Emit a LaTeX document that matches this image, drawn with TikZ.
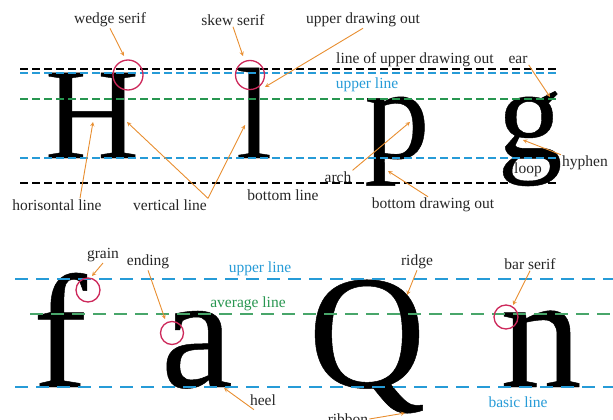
\documentclass[tikz,border=0pt]{standalone}
\usepackage{fontspec}
\setmainfont{Liberation Serif}
\newfontfamily\letterfont[FakeBold=0.3]{Liberation Serif}
\usetikzlibrary{arrows, positioning}
\definecolor{guideblue}{RGB}{38,155,215}
\definecolor{guidegreen}{RGB}{40,150,80}
\definecolor{arroworange}{RGB}{232,142,48}
\definecolor{ringred}{RGB}{205,40,90}
\tikzstyle{partname} = [font=\fontsize{15.5}{17}\selectfont, text=black!85, inner sep=1pt]
\tikzstyle{glyph} = [font=\letterfont\fontsize{130}{130}\selectfont, anchor=base, inner sep=0pt]
\tikzstyle{bigglyph} = [font=\letterfont\fontsize{162}{162}\selectfont, anchor=base, inner sep=0pt]
\tikzstyle{guide} = [line width=1.8pt, dash pattern=on 8pt off 4pt]
\tikzstyle{longguide} = [line width=2.2pt, dash pattern=on 13pt off 8pt]
\tikzstyle{ring} = [circle, draw=ringred, line width=1.3pt, inner sep=0pt]
\tikzstyle{arrow} = [arroworange, line width=0.9pt, ->, >=stealth]

\begin{document}
\begin{tikzpicture}[x=1pt, y=-1pt]
    \useasboundingbox (0,0) rectangle (613,420);
    % letters of the upper row
    \node (H) [glyph] at (92,158) {H};
    \node (l) [glyph] at (254,158) {l};
    \node (p) [glyph] at (397,158) {p};
    \node (g) [glyph] at (530,158) {g};
    % letters of the lower row
    \node (f) [bigglyph] at (60,387) {f};
    \node (a) [bigglyph] at (197,387) {a};
    \node (Q) [bigglyph] at (367,387) {Q};
    \node (n) [bigglyph] at (541,387) {n};

    % guide lines
    \draw [guide, black] (20,69) -- (558,69);
    \draw [guide, guideblue] (20,73) -- (558,73);
    \draw [guide, guidegreen] (20,99) -- (558,99);
    \draw [guide, guideblue] (20,158) -- (558,158);
    \draw [guide, black] (20,183) -- (558,183);
    \draw [longguide, guideblue] (15,279) -- (613,279);
    \draw [longguide, guidegreen!85!white] (30,314) -- (613,314);
    \draw [longguide, guideblue] (15,387) -- (613,387);

    % rings
    \node (wedgering) [ring, minimum size=30pt] at (128,75) {};
    \node (skewring) [ring, minimum size=29pt] at (250,75) {};
    \node (grainring) [ring, minimum size=24pt] at (88,290) {};
    \node (endingring) [ring, minimum size=23pt] at (172,333) {};
    \node (barring) [ring, minimum size=24pt] at (506,317) {};

    % names of the parts
    \node (wedge) [partname] at (110,20) {wedge serif};
    \node (skew) [partname] at (233,20) {skew serif};
    \node (upperout) [partname] at (363,20) {upper drawing out};
    \node (lineupper) [partname] at (415,60) {line of upper drawing out};
    \node (ear) [partname] at (518,60) {ear};
    \node (upperline) [partname, text=guideblue] at (367,85) {upper line};
    \node (hyphen) [partname] at (585,163) {hyphen};
    \node (loop) [partname] at (528,170) {loop};
    \node (arch) [partname] at (338,177) {arch};
    \node (bottomline) [partname] at (283,195) {bottom line};
    \node (bottomout) [partname] at (433,205) {bottom drawing out};
    \node (horiz) [partname] at (57,205) {horisontal line};
    \node (vertical) [partname] at (170,205) {vertical line};
    \node (grain) [partname] at (103,255) {grain};
    \node (ending) [partname] at (148,262) {ending};
    \node (upperline2) [partname, text=guideblue] at (260,269) {upper line};
    \node (average) [partname, text=guidegreen] at (248,304) {average line};
    \node (heel) [partname] at (263,400) {heel};
    \node (ridge) [partname] at (417,262) {ridge};
    \node (barserif) [partname] at (530,264) {bar serif};
    \node (basic) [partname, text=guideblue] at (518,402) {basic line};
    \node (ribbon) [partname] at (348,419) {ribbon};

    % points the arrows show
    \coordinate (wedgetip) at (124,56);
    \coordinate (skewtip) at (243,56);
    \coordinate (uppertip) at (265,87);
    \coordinate (horiztip) at (93,122);
    \coordinate (verttipH) at (127,122);
    \coordinate (verttipl) at (245,125);
    \coordinate (eartip) at (550,97);
    \coordinate (hyphentip) at (523,140);
    \coordinate (archtip) at (410,122);
    \coordinate (bottomtip) at (388,171);
    \coordinate (graintip) at (92,276);
    \coordinate (endingtip) at (165,319);
    \coordinate (heeltip) at (224,388);
    \coordinate (ridgetip) at (407,295);
    \coordinate (bartip) at (513,305);
    \coordinate (ribbontip) at (405,413);

    \draw [arrow] (wedge.south) -- (wedgetip);
    \draw [arrow] (skew.south) -- (skewtip);
    \draw [arrow] (upperout.south) -- (uppertip);
    \draw [arrow] ([xshift=23pt]horiz.north) -- (horiztip);
    \draw [arrow] (vertical.north east) -- (verttipH);
    \draw [arrow] (vertical.north east) -- (verttipl);
    \draw [arrow] (ear.south east) -- (eartip);
    \draw [arrow] (hyphen.north west) -- (hyphentip);
    \draw [arrow] (arch.north east) -- (archtip);
    \draw [arrow] ([xshift=-5pt]bottomout.north) -- (bottomtip);
    \draw [arrow] (grain.south) -- (graintip);
    \draw [arrow] (ending.south) -- (endingtip);
    \draw [arrow] ([xshift=5pt, yshift=-3pt]heel.south west) -- (heeltip);
    \draw [arrow] (ridge.south) -- (ridgetip);
    \draw [arrow] (barserif.south) -- (bartip);
    \draw [arrow] (ribbon.east) -- (ribbontip);
\end{tikzpicture}
\end{document}
